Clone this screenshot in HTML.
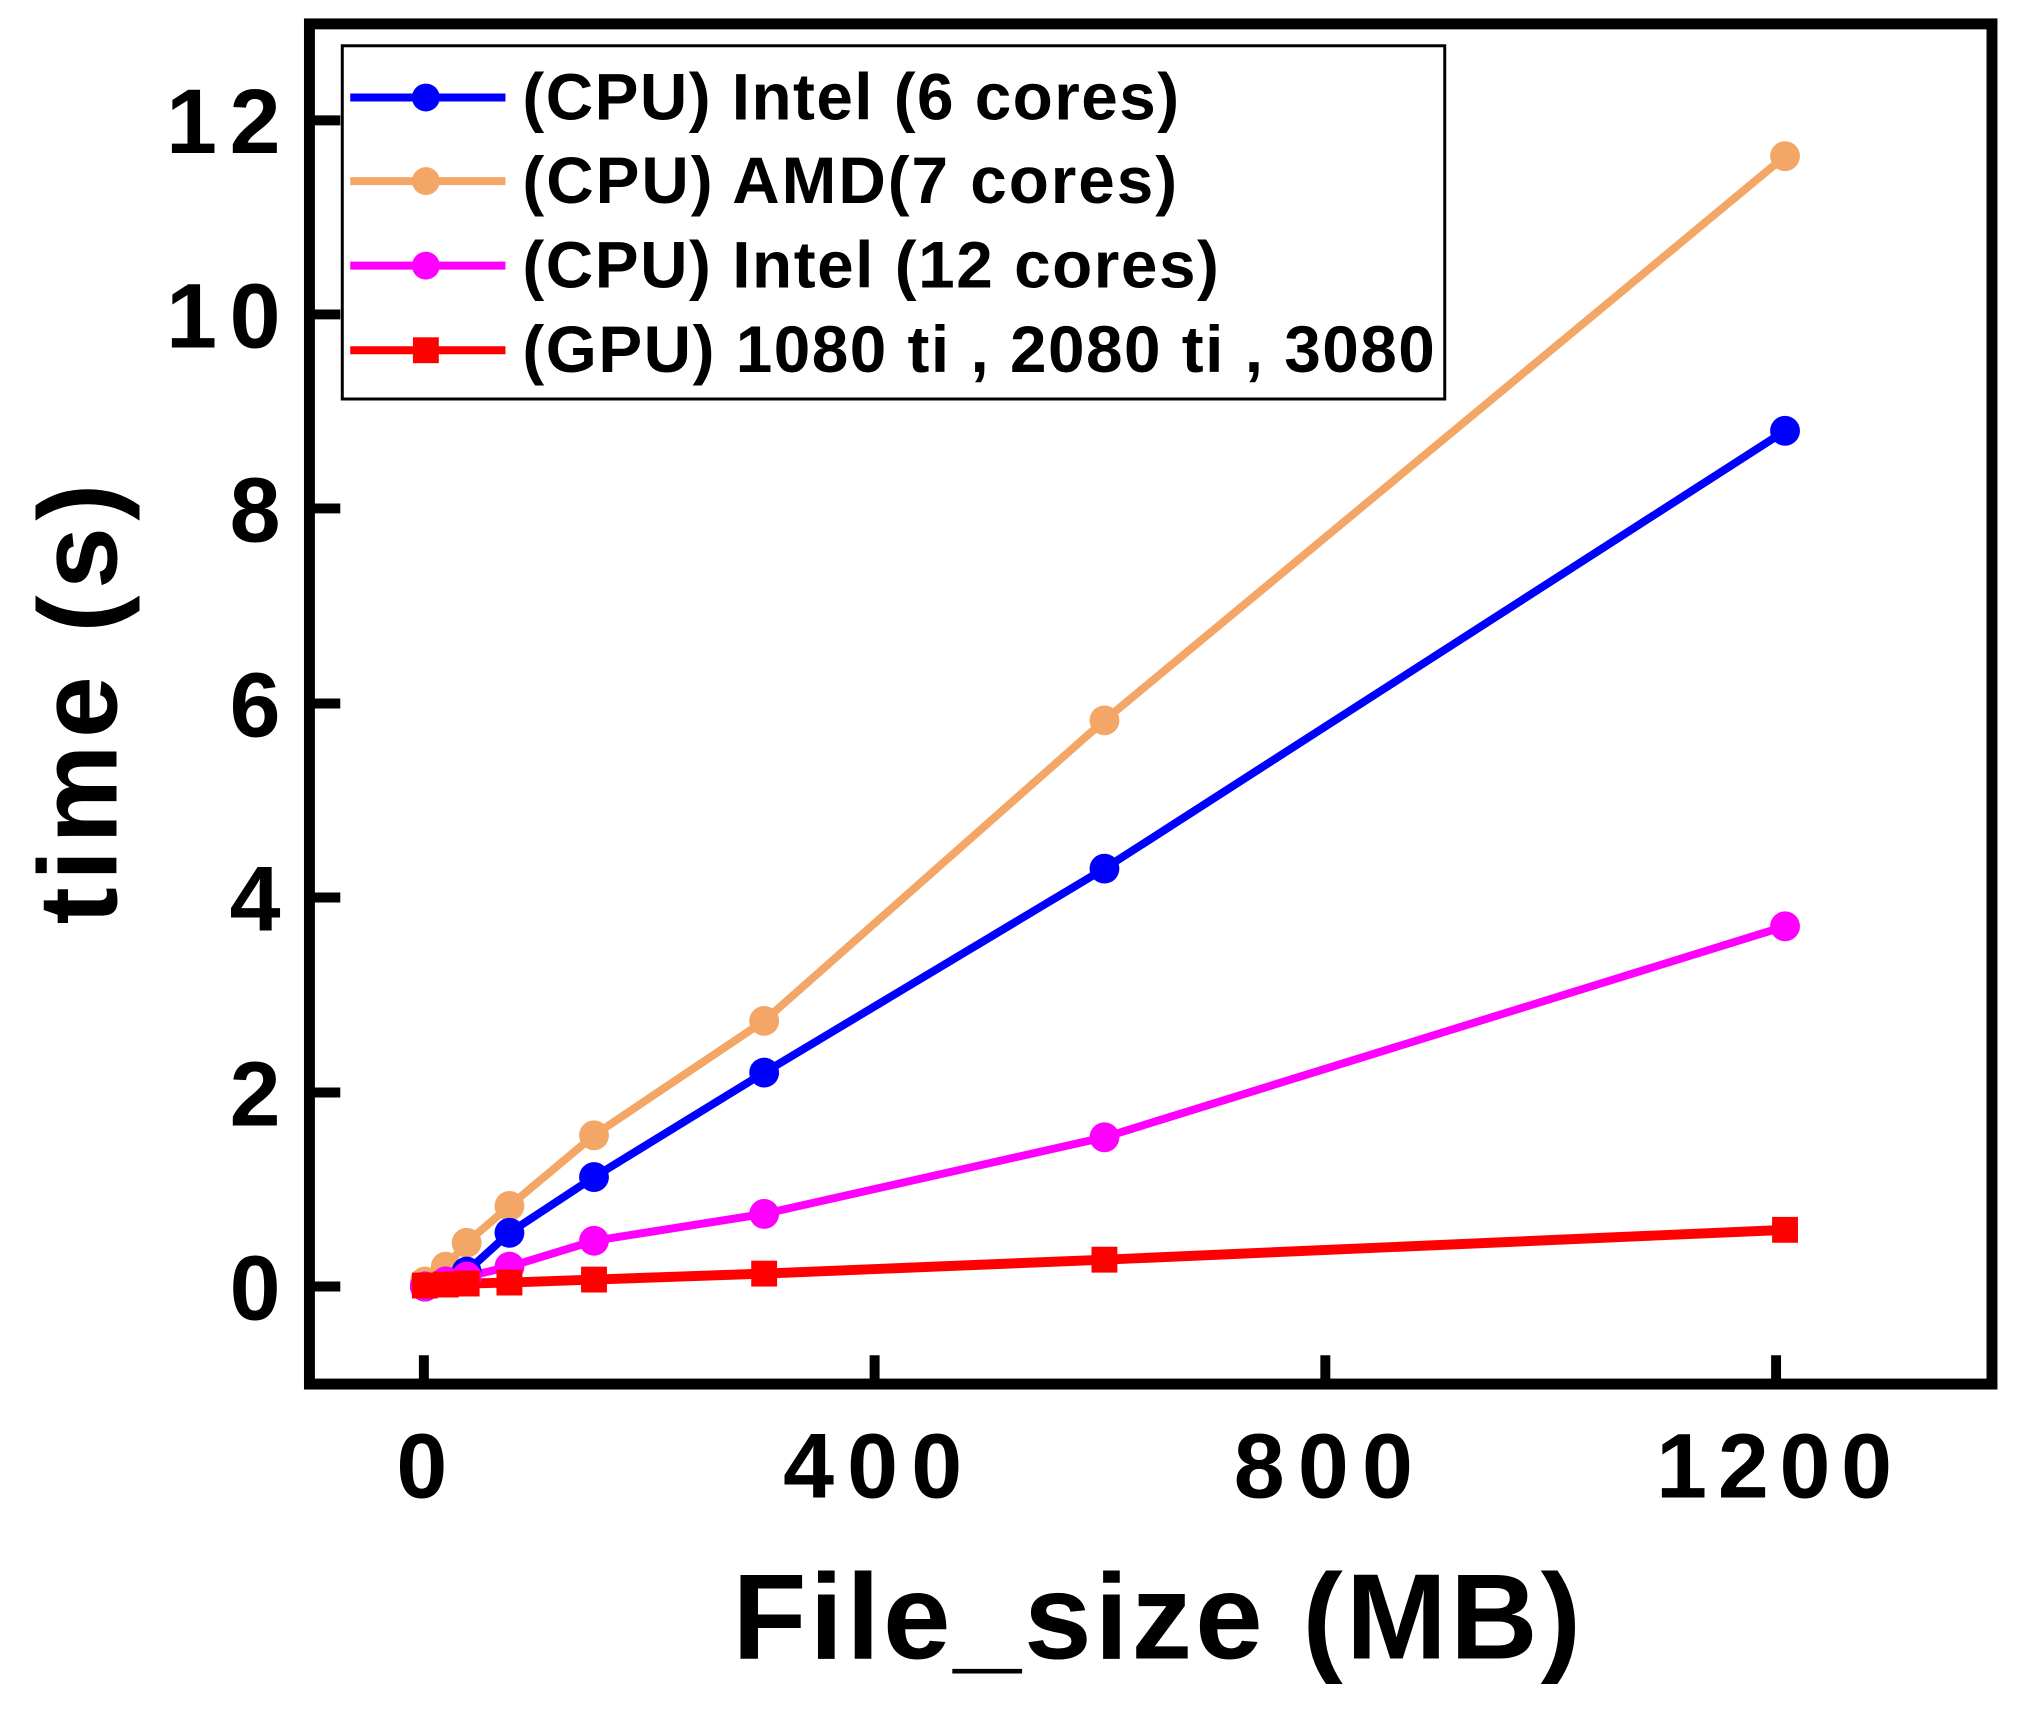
<!DOCTYPE html>
<html><head><meta charset="utf-8"><style>html,body{margin:0;padding:0;background:#fff}svg{display:block}</style></head><body>
<svg width="2032" height="1710" viewBox="0 0 2032 1710" xmlns="http://www.w3.org/2000/svg" font-family="Liberation Sans, Arial, sans-serif" font-weight="bold">
<rect width="2032" height="1710" fill="#fff"/>
<g transform="scale(0.995)">
<rect x="311" y="24" width="1691" height="1367" fill="none" stroke="#000" stroke-width="11"/>
<g stroke="#000" stroke-width="10">
<line x1="311" y1="1293" x2="342" y2="1293"/>
<line x1="311" y1="1098" x2="342" y2="1098"/>
<line x1="311" y1="902" x2="342" y2="902"/>
<line x1="311" y1="707" x2="342" y2="707"/>
<line x1="311" y1="511" x2="342" y2="511"/>
<line x1="311" y1="316" x2="342" y2="316"/>
<line x1="311" y1="121" x2="342" y2="121"/>
<line x1="426" y1="1391" x2="426" y2="1362"/>
<line x1="879" y1="1391" x2="879" y2="1362"/>
<line x1="1332" y1="1391" x2="1332" y2="1362"/>
<line x1="1785" y1="1391" x2="1785" y2="1362"/>
</g>
<g font-size="92" text-anchor="end">
<text x="282" y="1326">0</text>
<text x="282" y="1131">2</text>
<text x="282" y="935">4</text>
<text x="282" y="740">6</text>
<text x="282" y="544">8</text>
<text x="282" y="349" textLength="115">10</text>
<text x="282" y="154" textLength="115">12</text>
</g>
<g font-size="92" text-anchor="middle">
<text x="424" y="1505">0</text>
<text x="877" y="1505" textLength="180">400</text>
<text x="1330" y="1505" textLength="180">800</text>
<text x="1783" y="1505" textLength="237">1200</text>
</g>
<text x="736" y="1667" font-size="122" textLength="853">File_size (MB)</text>
<text transform="translate(117,929) rotate(-90)" font-size="112" textLength="443">time (s)</text>
<g fill="none" stroke-width="8" stroke-linejoin="round">
<polyline stroke="#f4a666" points="427,1288 448,1273 469,1249 512,1212 597,1141 768,1026 1110,724 1794,157"/>
<polyline stroke="#0000ff" points="427,1293 448,1288 469,1278 512,1239 597,1183 768,1078 1110,873 1794,433"/>
<polyline stroke="#ff00ff" points="427,1293 448,1288 469,1283 512,1273 597,1247 768,1220 1110,1143 1794,931"/>
<polyline stroke="#ff0000" stroke-width="10" points="427,1292 448,1291 469,1290 512,1289 597,1286 768,1280 1110,1266 1794,1236"/>
</g>
<g fill="#f4a666"><circle cx="427" cy="1288" r="15"/><circle cx="448" cy="1273" r="15"/><circle cx="469" cy="1249" r="15"/><circle cx="512" cy="1212" r="15"/><circle cx="597" cy="1141" r="15"/><circle cx="768" cy="1026" r="15"/><circle cx="1110" cy="724" r="15"/><circle cx="1794" cy="157" r="15"/></g>
<g fill="#0000ff"><circle cx="427" cy="1293" r="15"/><circle cx="448" cy="1288" r="15"/><circle cx="469" cy="1278" r="15"/><circle cx="512" cy="1239" r="15"/><circle cx="597" cy="1183" r="15"/><circle cx="768" cy="1078" r="15"/><circle cx="1110" cy="873" r="15"/><circle cx="1794" cy="433" r="15"/></g>
<g fill="#ff00ff"><circle cx="427" cy="1293" r="15"/><circle cx="448" cy="1288" r="15"/><circle cx="469" cy="1283" r="15"/><circle cx="512" cy="1273" r="15"/><circle cx="597" cy="1247" r="15"/><circle cx="768" cy="1220" r="15"/><circle cx="1110" cy="1143" r="15"/><circle cx="1794" cy="931" r="15"/></g>
<g fill="#ff0000"><rect x="414" y="1279" width="26" height="26"/><rect x="435" y="1278" width="26" height="26"/><rect x="456" y="1277" width="26" height="26"/><rect x="499" y="1276" width="26" height="26"/><rect x="584" y="1273" width="26" height="26"/><rect x="755" y="1267" width="26" height="26"/><rect x="1097" y="1253" width="26" height="26"/><rect x="1781" y="1223" width="26" height="26"/></g>
<rect x="344" y="46" width="1108" height="355" fill="#fff" stroke="#000" stroke-width="3"/>
<g stroke-width="8">
<line x1="352" y1="98" x2="508" y2="98" stroke="#0000ff"/>
<line x1="352" y1="182" x2="508" y2="182" stroke="#f4a666"/>
<line x1="352" y1="267" x2="508" y2="267" stroke="#ff00ff"/>
<line x1="352" y1="352" x2="508" y2="352" stroke="#ff0000"/>
</g>
<circle cx="428" cy="98" r="14" fill="#0000ff"/>
<circle cx="428" cy="182" r="14" fill="#f4a666"/>
<circle cx="428" cy="267" r="14" fill="#ff00ff"/>
<rect x="415" y="339" width="26" height="26" fill="#ff0000"/>
<g font-size="66">
<text x="525" y="120" textLength="660">(CPU) Intel (6 cores)</text>
<text x="525" y="204" textLength="658">(CPU) AMD(7 cores)</text>
<text x="525" y="289" textLength="700">(CPU) Intel (12 cores)</text>
<text x="525" y="374" textLength="917">(GPU) 1080 ti , 2080 ti , 3080</text>
</g>
</g>
</svg>
</body></html>
